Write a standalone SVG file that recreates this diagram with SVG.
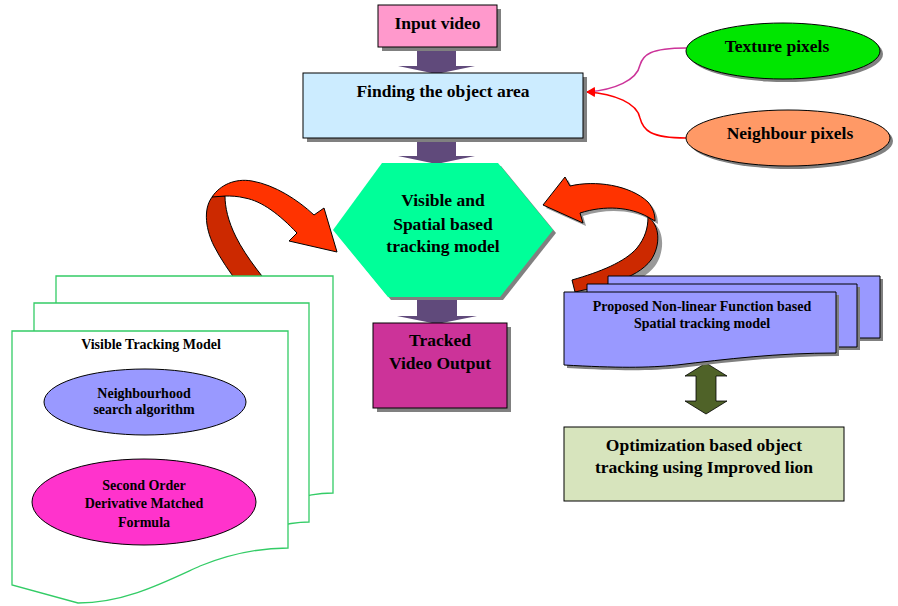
<svg xmlns="http://www.w3.org/2000/svg" width="898" height="606" viewBox="0 0 898 606">
<defs>
<style>
text{font-family:"Liberation Serif","Times New Roman","DejaVu Serif",serif;font-weight:bold;fill:#000;text-anchor:middle}
.t16{font-size:17.5px}
.t17{font-size:17.5px}
.t12{font-size:14px}
.box{stroke:#000;stroke-width:1}
.sh{fill:#808080;stroke:none}
.page{fill:#fff;stroke:#33CC66;stroke-width:1.3}
.dn{fill:#604A7B;stroke:none}
.front{fill:#FF3300;stroke:#000;stroke-width:1}
.back{fill:#CC2900;stroke:#000;stroke-width:1}
</style>
<marker id="ah" viewBox="0 0 10 10" refX="9" refY="5" markerWidth="9" markerHeight="9" markerUnits="userSpaceOnUse" orient="auto">
<path d="M0,0 L10,5 L0,10 Z" fill="#FF0000"/>
</marker>
</defs>
<rect width="898" height="606" fill="#fff"/>

<g id="connectors">
<path class="dn" d="M417,47 H456 V66 H475 L436.5,74 L398,66 H417 Z"/>
<path class="dn" d="M417,138 H456 V156 H475 L436.5,164 L398,156 H417 Z"/>
<path class="dn" d="M417,297 H457 V316 H477 L437,324 L397,316 H417 Z"/>
<path d="M686,48 C650,48 643,55 640,65 C637,80 615,90 587,92" fill="none" stroke="#CC3399" stroke-width="1.5" marker-end="url(#ah)"/>
<path d="M686,138 C650,138 643,130 640,118 C637,103 615,94 587,92" fill="none" stroke="#FF0000" stroke-width="1.5" marker-end="url(#ah)"/>
<path d="M706,363 L727,376 H716 V401 H727 L706,414 L685,401 H696 V376 H685 Z" fill="#4F6228" stroke="#000" stroke-width="0.8"/>
<g id="arrow-left">
<path class="back" d="M213,196 C204,206 204,226 214,246 C228,273 248,296 267,317 L284,302 C265,281 246,257 236,237 C228,221 225,207 225,196 Z"/>
<path class="front" d="M212,197 C220,185 235,178 252,181 C275,185 298,200 314,215 L324,208 L337,252 L289,241 L297,233 C280,215 262,201 245,198 C237,196 231,196 225,196 Z"/>
</g>
<g id="arrow-right">
<path d="M655,224 C664,232 665,252 655,266 C640,286 605,292 578,296 L576,284 C604,276 629,266 641,252 C649,242 652,232 652,222 Z" fill="#999" stroke="none"/>
<path d="M573,189 C598,183 633,188 651,205 C656,211 658,217 658,224 L651,220 C633,210 608,208 583,216 L586,226 L546,208 L568,180 Z" fill="#999" stroke="none"/>
<path class="back" d="M648,217 C660,225 661,245 651,260 C636,280 601,286 575,292 L572,280 C600,272 625,262 637,248 C645,238 648,228 648,217 Z"/>
<path class="front" d="M570,186 C595,180 630,185 648,202 C653,208 655,214 655,221 L648,217 C630,207 605,205 580,213 L583,223 L543,205 L565,177 Z"/>
</g>
</g>

<g id="input-video">
<rect class="sh" x="382" y="9" width="119" height="42"/>
<rect class="box" x="378" y="5" width="119" height="42" fill="#FF99CC"/>
<text class="t16" x="437.5" y="29">Input video</text>
</g>

<g id="finding-object-area">
<rect class="sh" x="307" y="77" width="280" height="65"/>
<rect class="box" x="303" y="73" width="280" height="65" fill="#CCECFF"/>
<text class="t16" x="443" y="97">Finding the object area</text>
</g>

<g id="texture-pixels">
<ellipse class="sh" cx="786" cy="54" rx="97" ry="28"/>
<ellipse class="box" cx="783" cy="51" rx="97" ry="28" fill="#00E600"/>
<text class="t16" x="777" y="52">Texture pixels</text>
</g>

<g id="neighbour-pixels">
<ellipse class="sh" cx="791" cy="141" rx="102" ry="28"/>
<ellipse class="box" cx="788" cy="138" rx="102" ry="28" fill="#FF9966"/>
<text class="t16" x="790" y="139">Neighbour pixels</text>
</g>

<g id="tracking-model">
<polygon class="sh" points="385,166 501,166 556,233 503,300 391,300 336,233"/>
<polygon points="382,163 498,163 553,230 500,297 388,297 333,230" fill="#00FF99"/>
<text class="t16" x="443" y="206">Visible and</text>
<text class="t16" x="443" y="230">Spatial based</text>
<text class="t16" x="443" y="252">tracking model</text>
</g>

<g id="tracked-video-output">
<rect class="sh" x="377" y="327" width="134" height="85"/>
<rect class="box" x="373" y="323" width="134" height="85" fill="#CC3399"/>
<text class="t17" x="440" y="346">Tracked</text>
<text class="t17" x="440" y="369">Video Output</text>
</g>

<g id="visible-tracking-model">
<path class="page" d="M56,276 H333 V493 C315,493 305,496 290,500 L56,540 Z"/>
<path class="page" d="M34,303 H309 V522 C295,522 285,524 270,528 L34,560 Z"/>
<path class="page" d="M12,331 H288 V548 C255,548 225,556 200,566 C165,582 125,603 78,603 L12,585 Z"/>
<text class="t12" x="151" y="349">Visible Tracking Model</text>
<ellipse class="box" cx="145" cy="402" rx="101" ry="33" fill="#9999FF"/>
<text class="t12" x="144" y="398">Neighbourhood</text>
<text class="t12" x="144" y="414">search algorithm</text>
<ellipse class="box" cx="144" cy="502" rx="112" ry="43" fill="#FF33CC"/>
<text class="t12" x="144" y="490">Second Order</text>
<text class="t12" x="144" y="508">Derivative Matched</text>
<text class="t12" x="144" y="527">Formula</text>
</g>

<g id="spatial-tracking-model">
<path class="sh" d="M611,279 H883 V341 H611 Z"/>
<path class="box" d="M608,276 H880 V338 H608 Z" fill="#9999FF"/>
<path class="sh" d="M590,287 H860 V350 H590 Z"/>
<path class="box" d="M587,284 H857 V347 H587 Z" fill="#9999FF"/>
<path class="sh" d="M567,295 H839 V356 C780,356 730,362 680,368 C650,371 620,371 567,368 Z"/>
<path class="box" d="M564,292 H836 V353 C777,353 727,359 677,365 C647,368 617,368 564,365 Z" fill="#9999FF"/>
<text class="t12" x="702" y="311">Proposed Non-linear Function based</text>
<text class="t12" x="702" y="328">Spatial tracking model</text>
</g>

<g id="optimization-lion">
<rect class="box" x="564" y="427" width="280" height="74" fill="#D7E4BD"/>
<text class="t17" x="704" y="451">Optimization based object</text>
<text class="t17" x="704" y="473">tracking using Improved lion</text>
</g>
</svg>
